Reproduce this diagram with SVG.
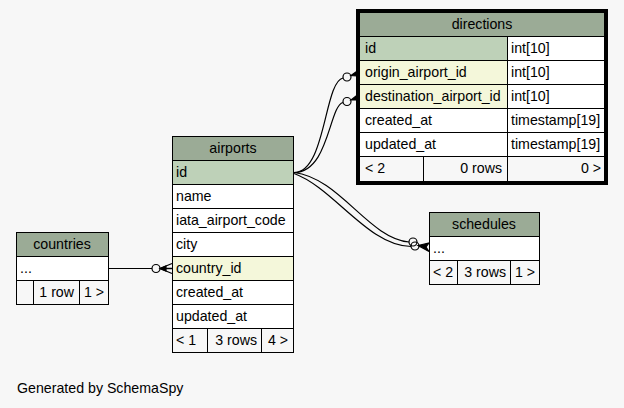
<svg xmlns="http://www.w3.org/2000/svg" width="624" height="408" viewBox="0 0 624 408">
<style>
text{font-family:"Liberation Sans",Arial,Helvetica,sans-serif;font-size:14.2px;fill:#000}
.h{fill:#9bab96;stroke:#000;stroke-width:1}
.pk{fill:#bed1b8;stroke:#000;stroke-width:1}
.fk{fill:#f4f7da;stroke:#000;stroke-width:1}
.n{fill:#fff;stroke:#000;stroke-width:1}
.f{fill:#f7f7f7;stroke:#000;stroke-width:1}
.c{text-anchor:middle}
.r{text-anchor:end}
.e{fill:none;stroke:#000;stroke-width:1.2}
.dot{fill:none;stroke:#000;stroke-width:1.2}
.crow{fill:#000;stroke:#000;stroke-width:1.2;stroke-linejoin:miter}
.crowl{fill:none;stroke:#000;stroke-width:1.3}
</style>
<rect width="624" height="408" fill="#f7f7f7"/>
<g id="edges">
<path class="e" d="M108,268.5 L152,268.5"/>
<circle class="dot" cx="156" cy="268.5" r="4"/>
<path class="crowl" d="M160,268.5 L172,263.5 M160,268.5 L172,273.5 M160,268.5 L172,268.5"/>
<path class="crow" d="M160,268.5 L166,266 L166,271 Z"/>
<path class="e" d="M294,172.5 C326,172.5 324,82 343,78"/>
<circle class="dot" cx="347" cy="77" r="4"/>
<path class="crow" d="M351,75.5 L358,70.5 L356,74 L359,76 Z"/>
<path class="e" d="M294,172.5 C329,172.5 329,106 343,102.5"/>
<circle class="dot" cx="347" cy="101.5" r="4"/>
<path class="crow" d="M351,100 L358,94.5 L356,98 L359,100 Z"/>
<path class="e" d="M294,172.5 C340,178 368,238 409,242"/>
<circle class="dot" cx="413" cy="242" r="4"/>
<path class="e" d="M294,173.5 C334,188 368,246 411,246.5"/>
<circle class="dot" cx="415" cy="246" r="4"/>
<path class="crow" d="M418,245.5 L429,243 L426,247 L429,251.5 Z"/>
</g>
<g id="directions">
<rect x="357.5" y="10.5" width="249" height="173" fill="none" stroke="#000" stroke-width="3"/>
<rect class="h" x="359.5" y="12.5" width="245" height="24"/>
<rect class="pk" x="359.5" y="36.5" width="148" height="24"/>
<rect class="n" x="507.5" y="36.5" width="97" height="24"/>
<rect class="fk" x="359.5" y="60.5" width="148" height="24"/>
<rect class="n" x="507.5" y="60.5" width="97" height="24"/>
<rect class="fk" x="359.5" y="84.5" width="148" height="24"/>
<rect class="n" x="507.5" y="84.5" width="97" height="24"/>
<rect class="n" x="359.5" y="108.5" width="148" height="24"/>
<rect class="n" x="507.5" y="108.5" width="97" height="24"/>
<rect class="n" x="359.5" y="132.5" width="148" height="24"/>
<rect class="n" x="507.5" y="132.5" width="97" height="24"/>
<rect class="f" x="359.5" y="156.5" width="64" height="25"/>
<rect class="f" x="423.5" y="156.5" width="84" height="25"/>
<rect class="f" x="507.5" y="156.5" width="97" height="25"/>
<text class="c" x="482" y="29">directions</text>
<text x="365" y="53">id</text><text x="511" y="53">int[10]</text>
<text x="365" y="77">origin_airport_id</text><text x="511" y="77">int[10]</text>
<text x="365" y="101">destination_airport_id</text><text x="511" y="101">int[10]</text>
<text x="365" y="125">created_at</text><text x="511" y="125">timestamp[19]</text>
<text x="365" y="149">updated_at</text><text x="511" y="149">timestamp[19]</text>
<text x="365" y="173">&lt; 2</text><text class="r" x="502" y="173">0 rows</text><text class="r" x="601" y="173">0 &gt;</text>
</g>
<g id="airports">
<rect class="h" x="172.5" y="136.5" width="121" height="24"/>
<rect class="pk" x="172.5" y="160.5" width="121" height="24"/>
<rect class="n" x="172.5" y="184.5" width="121" height="24"/>
<rect class="n" x="172.5" y="208.5" width="121" height="24"/>
<rect class="n" x="172.5" y="232.5" width="121" height="24"/>
<rect class="fk" x="172.5" y="256.5" width="121" height="24"/>
<rect class="n" x="172.5" y="280.5" width="121" height="24"/>
<rect class="n" x="172.5" y="304.5" width="121" height="24"/>
<rect class="f" x="172.5" y="328.5" width="35" height="24"/>
<rect class="f" x="207.5" y="328.5" width="54" height="24"/>
<rect class="f" x="261.5" y="328.5" width="32" height="24"/>
<text class="c" x="233" y="153">airports</text>
<text x="176" y="177">id</text>
<text x="176" y="201">name</text>
<text x="176" y="225">iata_airport_code</text>
<text x="176" y="249">city</text>
<text x="176" y="273">country_id</text>
<text x="176" y="297">created_at</text>
<text x="176" y="321">updated_at</text>
<text x="176" y="345">&lt; 1</text><text class="r" x="257" y="345">3 rows</text><text class="r" x="288" y="345">4 &gt;</text>
</g>
<g id="countries">
<rect class="h" x="16.5" y="232.5" width="92" height="24"/>
<rect class="n" x="16.5" y="256.5" width="92" height="24"/>
<rect class="f" x="16.5" y="280.5" width="17" height="24"/>
<rect class="f" x="33.5" y="280.5" width="46" height="24"/>
<rect class="f" x="79.5" y="280.5" width="29" height="24"/>
<text class="c" x="62" y="249">countries</text>
<text x="20" y="273">...</text>
<text class="r" x="74" y="297">1 row</text><text class="r" x="104" y="297">1 &gt;</text>
</g>
<g id="schedules">
<rect class="h" x="429.5" y="212.5" width="110" height="24"/>
<rect class="n" x="429.5" y="236.5" width="110" height="24"/>
<rect class="f" x="429.5" y="260.5" width="28" height="24"/>
<rect class="f" x="457.5" y="260.5" width="53" height="24"/>
<rect class="f" x="510.5" y="260.5" width="29" height="24"/>
<text class="c" x="484" y="229">schedules</text>
<text x="433" y="253">...</text>
<text x="433" y="277">&lt; 2</text><text class="r" x="506" y="277">3 rows</text><text class="r" x="535" y="277">1 &gt;</text>
</g>
<text x="17" y="393">Generated by SchemaSpy</text>
</svg>
